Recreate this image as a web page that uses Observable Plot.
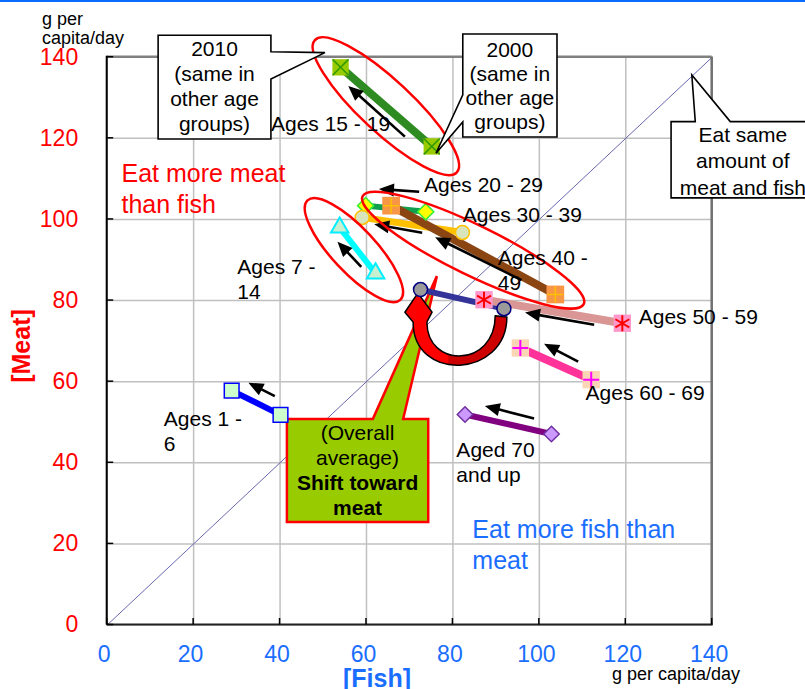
<!DOCTYPE html>
<html><head><meta charset="utf-8">
<script src="https://cdn.jsdelivr.net/npm/d3@7"></script>
<script src="https://cdn.jsdelivr.net/npm/@observablehq/plot@0.6"></script>
<style>body{margin:0;background:#fff;overflow:hidden;}</style>
</head><body><div id="chart"></div>
<script>
// ---------- data ----------
const ageGroups = ["Overall average","Ages 1 - 6","Ages 7 - 14","Ages 15 - 19","Ages 20 - 29","Ages 30 - 39","Ages 40 - 49","Ages 50 - 59","Ages 60 - 69","Aged 70 and up"];
const fish2000 = [91.8, 40.1, 62.1, 75.1, 73.7, 82.2, 103.7, 119.2, 112.0, 102.8];
const meat2000 = [78.0, 51.8, 86.7, 118.0, 101.9, 96.8, 81.5, 74.4, 60.5, 47.1];
const fish2010 = [72.5, 28.8, 53.8, 54.0, 59.8, 59.0, 65.7, 87.2, 95.6, 82.8];
const meat2010 = [82.7, 57.8, 98.0, 137.5, 103.4, 100.5, 103.4, 80.2, 68.3, 51.9];
const xTicks = [0, 20, 40, 60, 80, 100, 120, 140];
const yTicks = [0, 20, 40, 60, 80, 100, 120, 140];
const diagonal = [0, 140];

// change arrows (tail -> head), data units
const arrowTailFish = [69.0, 72.3, 73.0, 96.0, 58.9, 112.8, 109.1, 98.9, 38.9];
const arrowTailMeat = [120.3, 106.7, 96.6, 84.9, 88.2, 73.9, 64.8, 50.8, 56.3];
const arrowHeadFish = [55.9, 63.0, 61.9, 76.0, 53.4, 96.8, 101.2, 87.5, 32.8];
const arrowHeadMeat = [132.8, 107.4, 98.7, 95.5, 94.4, 76.9, 69.2, 53.9, 59.6];

// group labels
const labelTexts = ["Ages 15 - 19","Ages 20 - 29","Ages 30 - 39","Ages 40 -\n49","Ages 7 -\n14","Ages 50 - 59","Ages 60 - 69","Aged 70\nand up","Ages 1 -\n6"];
const labelFish = [37.9, 73.3, 82.3, 90.4, 30.1, 123.0, 110.7, 80.8, 13.1];
const labelMeat = [121.9, 106.7, 99.3, 82.6, 80.3, 74.1, 55.4, 35.2, 43.0];

// ---------- styles ----------
const FONT = "'Liberation Sans', Arial, Helvetica, sans-serif";
const styles = {
  "Overall average": {line:"#333399", lw:6, sym:"circle", r:7, fill:"#9a9a9a", stroke:"#000080", sw:1.5},
  "Ages 1 - 6": {line:"#0000ff", lw:6, sym:"square", r:8.3, fill:"#ccffcc", stroke:"#0000ff", sw:1.5},
  "Ages 7 - 14": {line:"#00ffff", lw:6, sym:"triangle", r:6.5, fill:"#c8f0d0", stroke:"#00eeff", sw:2},
  "Ages 15 - 19": {line:"#2e8b22", lw:8, sym:"square", r:9.2, fill:"#99cc00", stroke:"none", sw:0, over:{sym:"times", r:7.3, stroke:"#339900", sw:1.5}},
  "Ages 20 - 29": {line:"#0f9f4f", lw:6, sym:"diamond2", r:7.3, fill:"#ffff00", stroke:"#33ee33", sw:1.5},
  "Ages 30 - 39": {line:"#ffc000", lw:7, sym:"circle", r:7, fill:"#d8e4bc", stroke:"#ffc000", sw:1.5},
  "Ages 40 - 49": {line:"#8b4513", lw:8, sym:"square", r:10, fill:"#f79646", stroke:"none", sw:0, over:{sym:"plus", r:5.2, stroke:"#ffc000", sw:1.5}},
  "Ages 50 - 59": {line:"#d99694", lw:8, sym:"square", r:9.8, fill:"#ff99cc", stroke:"none", sw:0, over:{sym:"asterisk", r:7.6, stroke:"#ff0000", sw:2}},
  "Ages 60 - 69": {line:"#ff3399", lw:8, sym:"square", r:9.8, fill:"#fcd5b4", stroke:"none", sw:0, over:{sym:"plus", r:5.2, stroke:"#ff00ff", sw:2}},
  "Aged 70 and up": {line:"#800080", lw:6, sym:"diamond2", r:7, fill:"#cc99ff", stroke:"#7030a0", sw:1.5}
};

function G(html) {
  const g = document.createElementNS("http://www.w3.org/2000/svg", "g");
  g.innerHTML = html;
  return g;
}
function tspans(lines, cx, y0, lh, boldFrom) {
  return lines.map((t, i) => `<tspan x="${cx}" y="${y0 + i*lh}"${boldFrom !== undefined && i >= boldFrom ? ' font-weight="bold"' : ''}>${t}</tspan>`).join("");
}

// ---------- marks ----------
const marks = [];
marks.push(Plot.gridX({ticks: xTicks, stroke: "#c0c0c0", strokeOpacity: 1, strokeWidth: 1.5}));
marks.push(Plot.gridY({ticks: yTicks, stroke: "#c0c0c0", strokeOpacity: 1, strokeWidth: 1.5}));
marks.push(Plot.line(diagonal, {x: d => d, y: d => d, stroke: "#6868b0", strokeWidth: 1}));

// green callout + red curved arrow (behind data)
marks.push((index, {x, y}) => {
  const X = v => x(v), Y = v => y(v);
  const L = X(41.7), R = X(74.4), T = Y(50.7), B = Y(25.3);
  const path = `M${L},${T}H${X(61.6)}L${X(76.4)},${Y(85.9)}L${X(68.6)},${T}H${R}V${B}H${L}Z`;
  const cx = (L + R) / 2;
  const ribbon = `M${X(92.6)},${Y(75.8)} C${X(92.6)},${Y(60.8)} ${X(70.9)},${Y(59.6)} ${X(70.9)},${Y(74.6)}
    L${X(69.0)},${Y(77.0)} L${X(72.0)},${Y(81.7)} L${X(75.3)},${Y(77.0)} L${X(74.1)},${Y(74.6)}
    C${X(74.1)},${Y(63.0)} ${X(89.9)},${Y(63.4)} ${X(89.9)},${Y(76.1)} Z`;
  return G(`
    <path d="${path}" fill="#99cc00" stroke="#ff0000" stroke-width="2.5" stroke-linejoin="miter"/>
    <text font-family="${FONT}" font-size="21" text-anchor="middle" fill="#000">${tspans(["(Overall","average)","Shift toward","meat"], cx, Y(45.5), Y(39.3)-Y(45.5), 2)}</text>
    <defs><linearGradient id="rib" gradientUnits="userSpaceOnUse" x1="${X(69)}" y1="0" x2="${X(92.6)}" y2="0">
      <stop offset="0" stop-color="#ff0000"/><stop offset="0.42" stop-color="#ff0000"/>
      <stop offset="0.43" stop-color="#cc0000"/><stop offset="1" stop-color="#cc0000"/></linearGradient></defs>
    <path d="${ribbon}" fill="url(#rib)" stroke="#000" stroke-width="1.5" stroke-linejoin="round"/>
  `);
});

// lines 2000 -> 2010
ageGroups.forEach((g, i) => {
  const s = styles[g];
  const pts = [{fish: fish2000[i], meat: meat2000[i]}, {fish: fish2010[i], meat: meat2010[i]}];
  marks.push(Plot.line(pts, {x: "fish", y: "meat", stroke: s.line, strokeWidth: s.lw, strokeLinecap: "butt"}));
});
// markers
ageGroups.forEach((g, i) => {
  const s = styles[g];
  const pts = [{fish: fish2000[i], meat: meat2000[i]}, {fish: fish2010[i], meat: meat2010[i]}];
  marks.push(Plot.dot(pts, {x: "fish", y: "meat", symbol: s.sym, r: s.r, fill: s.fill, stroke: s.stroke, strokeWidth: s.sw}));
  if (s.over) marks.push(Plot.dot(pts, {x: "fish", y: "meat", symbol: s.over.sym, r: s.over.r, fill: "none", stroke: s.over.stroke, strokeWidth: s.over.sw}));
});

// black change arrows
marks.push((index, {x, y}) => {
  let h = "";
  arrowTailFish.forEach((_, i) => {
    const tx = x(arrowTailFish[i]), ty = y(arrowTailMeat[i]);
    const hx = x(arrowHeadFish[i]), hy = y(arrowHeadMeat[i]);
    const dx = hx - tx, dy = hy - ty, len = Math.hypot(dx, dy);
    const ux = dx / len, uy = dy / len, nx = -uy, ny = ux;
    const HL = 15, HW = 6.5;
    const bx = hx - ux * HL, by = hy - uy * HL;
    h += `<line x1="${tx}" y1="${ty}" x2="${bx + ux*2}" y2="${by + uy*2}" stroke="#000" stroke-width="2.6"/>`;
    h += `<path d="M${hx},${hy}L${bx + nx*HW},${by + ny*HW}L${bx - nx*HW},${by - ny*HW}Z" fill="#000"/>`;
  });
  return G(h);
});

// frame, ticks, outer texts
marks.push((index, {x, y}, values, dims) => {
  const L = x(0), R = x(140), T = y(140), B = y(0);
  let h = "";
  h += `<line x1="${L}" y1="${T}" x2="${R}" y2="${T}" stroke="#808080" stroke-width="2.5"/>`;
  h += `<line x1="${R}" y1="${T}" x2="${R}" y2="${B}" stroke="#707070" stroke-width="2.5"/>`;
  h += `<line x1="${L}" y1="${B}" x2="${R + 1}" y2="${B}" stroke="#222" stroke-width="2"/>`;
  h += `<line x1="${L}" y1="${T - 1}" x2="${L}" y2="${B}" stroke="#000" stroke-width="2"/>`;
  yTicks.forEach(v => { h += `<line x1="${L}" y1="${y(v)}" x2="${L + 6.5}" y2="${y(v)}" stroke="#000" stroke-width="1.5"/>`; });
  xTicks.forEach(v => { h += `<line x1="${x(v)}" y1="${B}" x2="${x(v)}" y2="${B - 6.5}" stroke="#000" stroke-width="1.5"/>`; });
  h += `<line x1="0" y1="1" x2="${dims.width}" y2="1" stroke="#0a6cff" stroke-width="2"/>`;
  h += `<text font-family="${FONT}" font-size="18" fill="#000" text-anchor="start">${tspans(["g per","capita/day"], 42, 24.5, 19.5)}</text>`;
  h += `<text x="612" y="680" font-family="${FONT}" font-size="18" fill="#000" text-anchor="start">g per capita/day</text>`;
  h += `<text transform="translate(30,346) rotate(-90)" text-anchor="middle" font-family="${FONT}" font-size="25" font-weight="bold" fill="#ff0000">[Meat]</text>`;
  h += `<text x="377" y="687" text-anchor="middle" font-family="${FONT}" font-size="25" font-weight="bold" fill="#1a6eff">[Fish]</text>`;
  return G(h);
});

// ellipses
marks.push((index, {x, y}) => {
  const E = [[64.6, 127.8, 97, 26, 43], [84.8, 92.3, 123, 25, 26], [57.2, 92.3, 68, 22, 47]];
  return G(E.map(([f, m, a, b, ang]) => {
    const cx = x(f), cy = y(m);
    return `<ellipse cx="${cx}" cy="${cy}" rx="${a}" ry="${b}" transform="rotate(${ang} ${cx} ${cy})" fill="none" stroke="#ff0000" stroke-width="2.5"/>`;
  }).join(""));
});

// white callouts
marks.push((index, {x, y}) => {
  let h = "";
  {
    const L = x(11.9), R = x(38.0), T = y(145.3), B = y(119.7);
    h += `<path d="M${L},${T}H${R}V${y(141.2)}L${x(50.5)},${y(141.0)}L${R},${y(134.5)}V${B}H${L}Z" fill="#fff" stroke="#000" stroke-width="1.6"/>`;
    h += `<text font-family="${FONT}" font-size="21" text-anchor="middle">${tspans(["2010","(same in","other age","groups)"], (L+R)/2, y(140.2), y(134.0)-y(140.2))}</text>`;
  }
  {
    const L = x(82.4), R = x(104.2), T = y(145.6), B = y(120.2);
    h += `<path d="M${L},${T}H${R}V${B}H${L}V${y(123.9)}L${x(76.2)},${y(116.2)}L${L},${y(130.6)}Z" fill="#fff" stroke="#000" stroke-width="1.6"/>`;
    h += `<text font-family="${FONT}" font-size="21" text-anchor="middle">${tspans(["2000","(same in","other age","groups)"], (L+R)/2, y(139.9), y(134.0)-y(139.9))}</text>`;
  }
  {
    const L = x(130.6), R = x(163.9), T = y(124.0), B = y(105.2);
    h += `<path d="M${L},${T}H${x(136.2)}L${x(135.4)},${y(135.5)}L${x(144.3)},${T}H${R}V${B}H${L}Z" fill="#fff" stroke="#000" stroke-width="1.6"/>`;
    h += `<text font-family="${FONT}" font-size="21" text-anchor="middle">${tspans(["Eat same","amount of","meat and fish"], x(147.2), y(119.0), y(112.5)-y(119.0))}</text>`;
  }
  return G(h);
});

// group labels
marks.push(Plot.text(labelTexts.map((t, i) => ({t, fish: labelFish[i], meat: labelMeat[i]})),
  {x: "fish", y: "meat", text: "t", textAnchor: "start", lineAnchor: "bottom", fontSize: 21, lineHeight: 1.19, fill: "#000"}));
marks.push(Plot.text([{t: "Eat more meat\nthan fish", fish: 3.3, meat: 101.5}],
  {x: "fish", y: "meat", text: "t", textAnchor: "start", lineAnchor: "bottom", fontSize: 25, lineHeight: 1.24, fill: "#ff0000"}));
marks.push(Plot.text([{t: "Eat more fish than\nmeat", fish: 84.5, meat: 13.7}],
  {x: "fish", y: "meat", text: "t", textAnchor: "start", lineAnchor: "bottom", fontSize: 25, lineHeight: 1.24, fill: "#1a6eff"}));

// axes tick labels
marks.push(Plot.axisX({ticks: xTicks, tickSize: 0, tickPadding: 21, fontSize: 23, fill: "#1a6eff", dx: -3, label: null}));
marks.push(Plot.axisY({ticks: yTicks, tickSize: 0, tickPadding: 29, fontSize: 23, fill: "#ff0000", label: null}));

const chart = Plot.plot({
  width: 805,
  height: 689,
  marginLeft: 106.7,
  marginRight: 93.3,
  marginTop: 56.7,
  marginBottom: 64.5,
  x: {domain: [0, 140]},
  y: {domain: [0, 140]},
  style: {fontFamily: FONT, background: "#fff", overflow: "visible"},
  marks
});
document.getElementById("chart").appendChild(chart);
</script>
</body></html>
